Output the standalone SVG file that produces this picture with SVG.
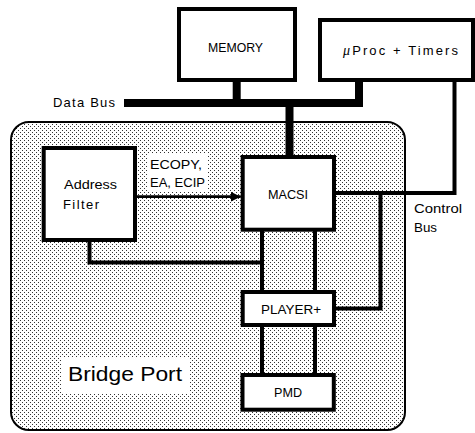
<svg xmlns="http://www.w3.org/2000/svg" width="475" height="433" viewBox="0 0 475 433">
<defs>
<pattern id="dots" width="4" height="4" patternUnits="userSpaceOnUse">
<rect width="4" height="4" fill="#ffffff"/>
<rect x="0" y="0" width="1" height="1" fill="#333"/>
<rect x="2" y="2" width="1" height="1" fill="#333"/>
</pattern>
<marker id="arr" markerUnits="userSpaceOnUse" markerWidth="11" markerHeight="11" refX="10" refY="5" orient="auto">
<path d="M0,0 L10,5 L0,10 Z" fill="#000"/>
</marker>
</defs>
<style>
.box{fill:#fff;stroke:#000;stroke-width:4}
.t{font-family:"Liberation Sans",Arial,sans-serif;font-size:13px;fill:#000}
.big{font-size:20px}
.bus{stroke:#000;stroke-width:8;fill:none}
.w4{stroke:#000;stroke-width:4;fill:none}
.bg{fill:#fff}
</style>
<g id="bridge-port">
<rect x="11" y="122" width="394" height="308" rx="18" fill="url(#dots)" stroke="#000" stroke-width="2"/>
<rect class="bg" x="62" y="358" width="128" height="36"/>
<text class="t big" x="68" y="381" textLength="114" lengthAdjust="spacingAndGlyphs">Bridge Port</text>
</g>
<g id="connectors">
<line class="bus" x1="124" y1="103" x2="363" y2="103"/>
<line class="bus" x1="236.7" y1="80" x2="236.7" y2="103"/>
<line class="bus" x1="359" y1="80" x2="359" y2="103"/>
<line class="bus" x1="289.5" y1="103" x2="289.5" y2="157" stroke-width="7"/>
<rect class="bg" x="148" y="153" width="60" height="38"/>
<line x1="135" y1="196.7" x2="240.7" y2="196.7" stroke="#000" stroke-width="2.7" marker-end="url(#arr)"/>
<polyline class="w4" points="89.5,240 89.5,262.5 262,262.5"/>
<line class="w4" x1="262" y1="229" x2="262" y2="292"/>
<line class="w4" x1="315" y1="229" x2="315" y2="292"/>
<line class="w4" x1="262" y1="325" x2="262" y2="375"/>
<line class="w4" x1="315" y1="325" x2="315" y2="375"/>
<polyline class="w4" points="334,193 454.5,193 454.5,80"/>
<polyline class="w4" points="380.5,193 380.5,308.5 334,308.5"/>
</g>
<g id="data-bus-label">
<text class="t" x="53" y="107" textLength="62" lengthAdjust="spacing">Data Bus</text>
</g>
<g id="memory">
<rect class="box" x="179" y="9" width="116" height="71"/>
<text class="t" x="208" y="52" textLength="55" lengthAdjust="spacingAndGlyphs">MEMORY</text>
</g>
<g id="uproc">
<rect class="box" x="320" y="20" width="153" height="60"/>
<text class="t" x="343" y="55" textLength="115" lengthAdjust="spacing"><tspan font-family="'Liberation Serif',serif" font-style="italic" font-size="14">μ</tspan>Proc + Timers</text>
</g>
<g id="address-filter">
<rect class="box" x="43.7" y="148" width="91.3" height="92"/>
<text class="t" x="64" y="189" textLength="53" lengthAdjust="spacingAndGlyphs">Address</text>
<text class="t" x="63" y="209" textLength="36" lengthAdjust="spacing">Filter</text>
</g>
<g id="ecopy-label">
<text class="t" x="150" y="169" textLength="52" lengthAdjust="spacingAndGlyphs">ECOPY,</text>
<text class="t" x="150" y="187" textLength="55" lengthAdjust="spacingAndGlyphs">EA, ECIP</text>
</g>
<g id="macsi">
<rect class="box" x="242.7" y="157" width="91.3" height="72.7"/>
<text class="t" x="268" y="199" textLength="40" lengthAdjust="spacingAndGlyphs">MACSI</text>
</g>
<g id="control-bus-label">
<text class="t" x="414" y="213" textLength="48" lengthAdjust="spacingAndGlyphs">Control</text>
<text class="t" x="414" y="232" textLength="23" lengthAdjust="spacingAndGlyphs">Bus</text>
</g>
<g id="player">
<rect class="box" x="242.7" y="292" width="91.3" height="33"/>
<text class="t" x="261" y="314" textLength="60" lengthAdjust="spacingAndGlyphs">PLAYER+</text>
</g>
<g id="pmd">
<rect class="box" x="242.5" y="375" width="91.3" height="34.7"/>
<text class="t" x="274" y="397" textLength="28" lengthAdjust="spacingAndGlyphs">PMD</text>
</g>
</svg>
